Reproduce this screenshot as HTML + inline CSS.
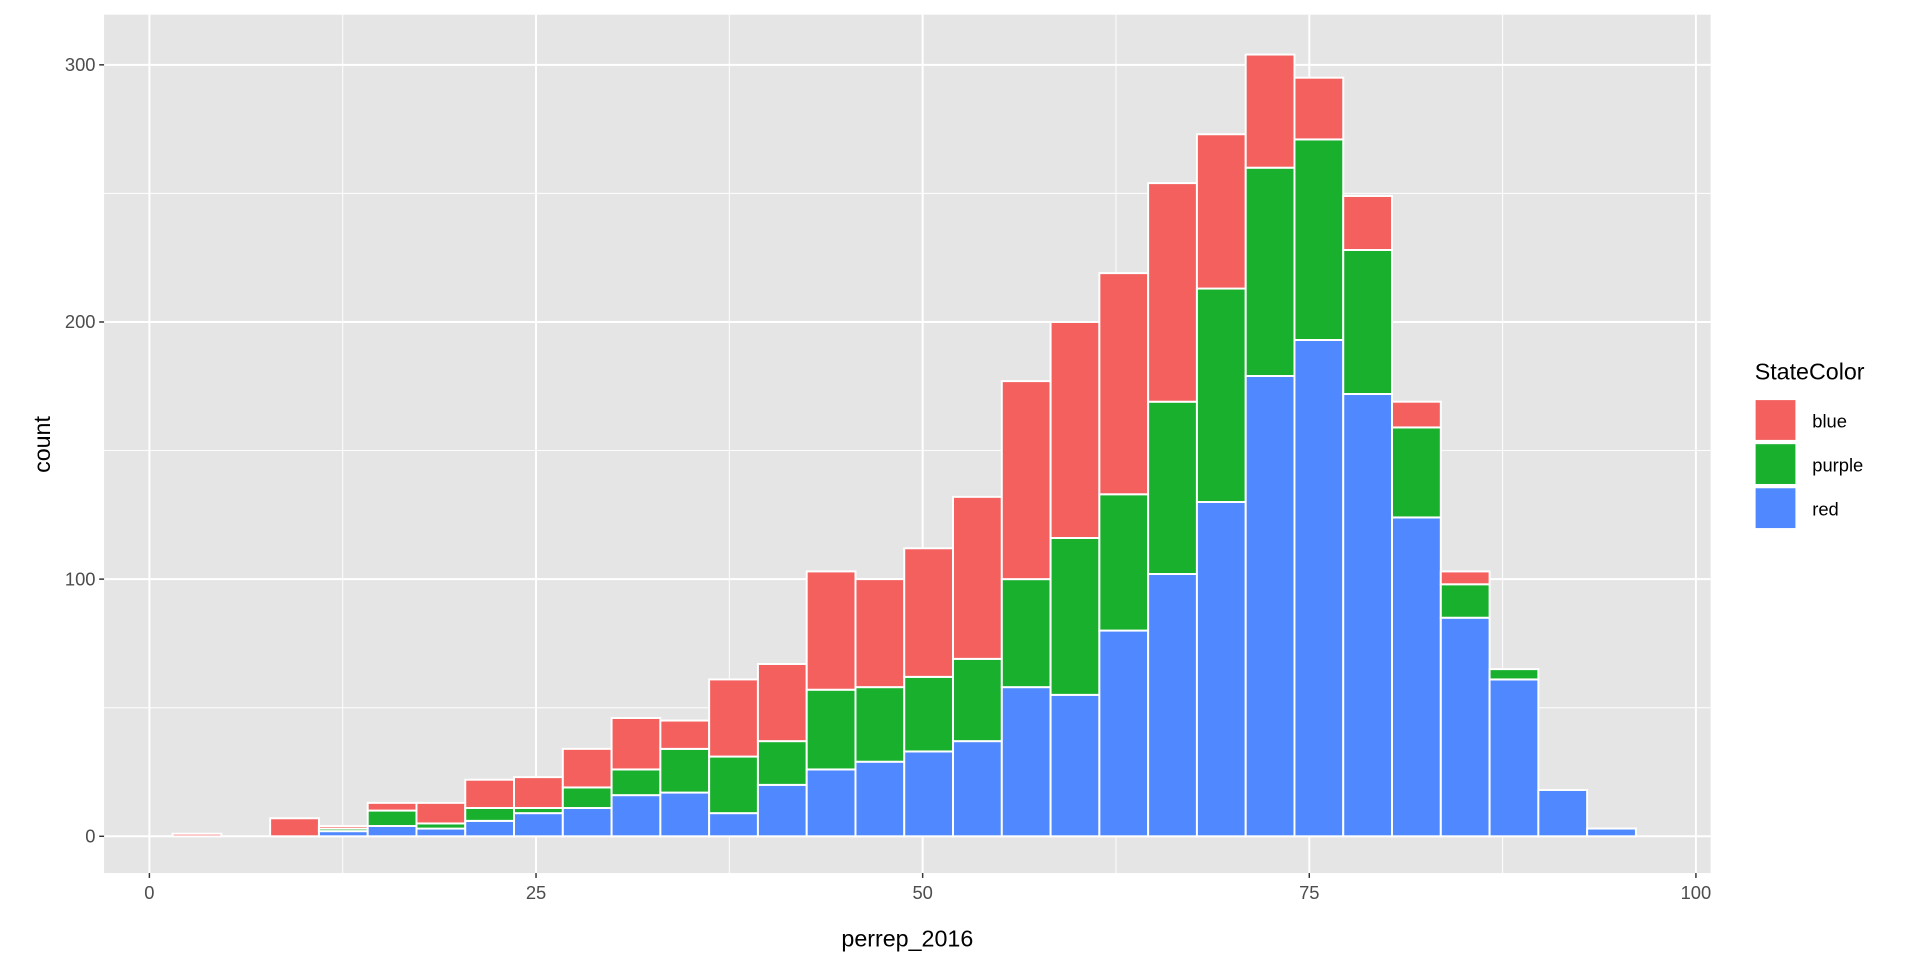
<!DOCTYPE html>
<html><head><meta charset="utf-8"><style>
html,body{margin:0;padding:0;background:#fff;}
svg{display:block;font-family:"Liberation Sans",Arial,sans-serif;}
</style></head><body>
<svg id="chart" width="1920" height="960" viewBox="0 0 1568 784" xmlns="http://www.w3.org/2000/svg">
<rect x="85" y="12" width="1312" height="701" fill="#E5E5E5"/>
<g id="grid"></g>
<g id="bars"></g>
<g id="axes"></g>
<text x="741" y="773" font-size="19" text-anchor="middle" fill="#000">perrep_2016</text>
<text transform="translate(41,363) rotate(-90)" font-size="19" text-anchor="middle" fill="#000">count</text>
<g>
<text x="1433" y="310" font-size="19" fill="#000">StateColor</text>
<rect x="1433" y="326" width="34" height="34" fill="#F3605E" stroke="#fff" stroke-width="1.5"/>
<rect x="1433" y="362" width="34" height="34" fill="#19B02E" stroke="#fff" stroke-width="1.5"/>
<rect x="1433" y="398" width="34" height="34" fill="#5088FF" stroke="#fff" stroke-width="1.5"/>
<text x="1480" y="349" font-size="15" fill="#000">blue</text>
<text x="1480" y="385" font-size="15" fill="#000">purple</text>
<text x="1480" y="421" font-size="15" fill="#000">red</text>
</g>
</svg>
<script>
const binStart = 1.5;
const binWidth = 3.154;
const redCounts =    [0,0,0,2,4,3,6,9,11,16,17,9,20,26,29,33,37,58,55,80,102,130,179,193,172,124,85,61,18,3];
const purpleCounts = [0,0,0,1,6,2,5,2,8,10,17,22,17,31,29,29,32,42,61,53,67,83,81,78,56,35,13,4,0,0];
const blueCounts =   [1,0,7,1,3,8,11,12,15,20,11,30,30,46,42,50,63,77,84,86,85,60,44,24,21,10,5,0,0,0];
const xTicks = [0,25,50,75,100];
const xMinor = [12.5,37.5,62.5,87.5];
const yTicks = [0,100,200,300];
const yMinor = [50,150,250];
const X0=85,X1=1397,Y0=713,Y1=12;
const xMin=-2.93,xMax=100.95,yMin=-14.3,yMax=319.5;
function sx(v){return X0+(v-xMin)/(xMax-xMin)*(X1-X0);}
function sy(v){return Y0-(v-yMin)/(yMax-yMin)*(Y0-Y1);}
const NS="http://www.w3.org/2000/svg";
function mk(tag,attrs,parent){const e=document.createElementNS(NS,tag);for(const k in attrs)e.setAttribute(k,attrs[k]);parent.appendChild(e);return e;}
const grid=document.getElementById('grid'),bars=document.getElementById('bars'),axes=document.getElementById('axes');
yMinor.forEach(v=>{const l=mk('line',{x1:X0,x2:X1,y1:sy(v),y2:sy(v),stroke:'#fff','stroke-width':0.8},grid);

});
xMinor.forEach(v=>{const l=mk('line',{x1:sx(v),x2:sx(v),y1:Y0,y2:Y1,stroke:'#fff','stroke-width':0.8},grid);

});
yTicks.forEach(v=>{const l=mk('line',{x1:X0,x2:X1,y1:sy(v),y2:sy(v),stroke:'#fff','stroke-width':1.6},grid);


const t=mk('line',{x1:X0-4,x2:X0,y1:sy(v),y2:sy(v),stroke:'#333','stroke-width':1.2},axes);


const tx=mk('text',{x:X0-7,y:sy(v)+5,'font-size':15,'text-anchor':'end',fill:'#4D4D4D'},axes);tx.textContent=v;

});
xTicks.forEach(v=>{const l=mk('line',{x1:sx(v),x2:sx(v),y1:Y0,y2:Y1,stroke:'#fff','stroke-width':1.6},grid);


const t=mk('line',{x1:sx(v),x2:sx(v),y1:Y0,y2:Y0+4,stroke:'#333','stroke-width':1.2},axes);


const tx=mk('text',{x:sx(v),y:Y0+21,'font-size':15,'text-anchor':'middle',fill:'#4D4D4D'},axes);tx.textContent=v;

});
const series=[['red',redCounts,'#5088FF'],['purple',purpleCounts,'#19B02E'],['blue',blueCounts,'#F3605E']];
redCounts.forEach((_,i)=>{
  let base=0;const xl=sx(binStart+i*binWidth),xr=sx(binStart+(i+1)*binWidth);
  series.forEach(([name,arr,col])=>{const c=arr[i];if(c<=0)return;
    const r=mk('rect',{x:xl,width:xr-xl,y:sy(base+c),height:sy(base)-sy(base+c),fill:col,stroke:'#fff','stroke-width':1.6},bars);
    
    
    base+=c;});
});
</script>
</body></html>
